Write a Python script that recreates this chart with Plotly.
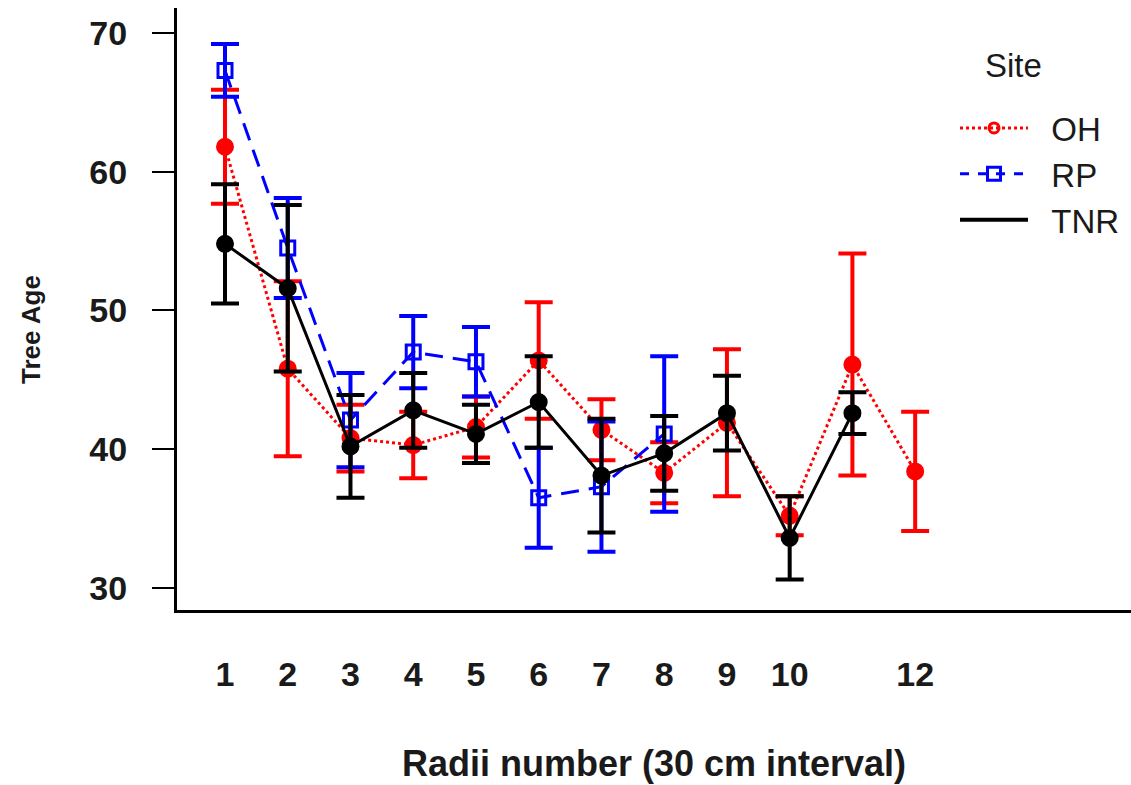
import plotly.graph_objects as go

radii_oh = [1, 2, 3, 4, 5, 6, 7, 8, 9, 10, 11, 12]
oh_mean = [61.8, 45.8, 40.8, 40.3, 41.6, 46.4, 41.4, 38.3, 41.9, 35.2, 46.1, 38.4]
oh_se = [4.1, 6.3, 2.4, 2.4, 2.2, 4.2, 2.2, 2.2, 5.3, 1.4, 8.0, 4.3]

radii_rp = [1, 2, 3, 4, 5, 6, 7, 8]
rp_mean = [67.3, 54.5, 42.1, 47.0, 46.3, 36.5, 37.3, 41.1]
rp_se = [1.9, 3.6, 3.4, 2.6, 2.5, 3.6, 4.7, 5.6]

radii_tnr = [1, 2, 3, 4, 5, 6, 7, 8, 9, 10, 11]
tnr_mean = [54.8, 51.6, 40.2, 42.8, 41.1, 43.4, 38.1, 39.7, 42.6, 33.6, 42.6]
tnr_se = [4.3, 6.0, 3.7, 2.7, 2.1, 3.3, 4.1, 2.7, 2.7, 3.0, 1.5]

x_tickvals = [1, 2, 3, 4, 5, 6, 7, 8, 9, 10, 12]
x_ticktext = ["1", "2", "3", "4", "5", "6", "7", "8", "9", "10", "12"]
y_tickvals = [30, 40, 50, 60, 70]

RED = "#FF0000"
BLUE = "#0000FF"
BLACK = "#000000"
DASH = "18px,10px"

fig = go.Figure()

def add_series(name, x, y, se, color, dash, symbol, size):
    fig.add_trace(go.Scatter(
        x=x, y=y, mode="lines+markers", name=name, showlegend=False,
        line=dict(color=color, width=3, dash=dash),
        marker=dict(color=color, size=size, symbol=symbol,
                    line=dict(color=color, width=3)),
        error_y=dict(type="data", array=se, visible=True, color=color,
                     thickness=4, width=14),
    ))

add_series("OH", radii_oh, oh_mean, oh_se, RED, "dot", "circle", 15)
add_series("RP", radii_rp, rp_mean, rp_se, BLUE, DASH, "square-open", 14)
add_series("TNR", radii_tnr, tnr_mean, tnr_se, BLACK, "solid", "circle", 15)

NB = "\u00a0" * 2
fig.add_trace(go.Scatter(x=[None], y=[None], mode="lines+markers", name=NB + "OH",
                         line=dict(color=RED, width=3, dash="dot"),
                         marker=dict(symbol="circle-open", size=10, color=RED,
                                     line=dict(color=RED, width=3))))
fig.add_trace(go.Scatter(x=[None], y=[None], mode="lines+markers", name=NB + "RP",
                         line=dict(color=BLUE, width=3, dash="dash"),
                         marker=dict(symbol="square-open", size=13, color=BLUE,
                                     line=dict(color=BLUE, width=3))))
fig.add_trace(go.Scatter(x=[None], y=[None], mode="lines", name=NB + "TNR",
                         line=dict(color=BLACK, width=4)))

pw, ph = 1131 - 177, 785 - 175 - 8

def px(xp):
    return (xp - 177) / pw

def py(yp):
    return (610 - yp) / ph

fig.update_layout(
    width=1131, height=785,
    margin=dict(l=177, r=0, t=8, b=175, autoexpand=False),
    paper_bgcolor="white", plot_bgcolor="white",
    font=dict(family="Liberation Sans, Arial, sans-serif", color="#1a1a1a"),
    showlegend=True,
    legend=dict(x=px(955), y=py(100), xanchor="left", yanchor="top",
                font=dict(size=33, color="#1a1a1a"),
                itemwidth=68, tracegroupgap=0, bgcolor="rgba(0,0,0,0)"),
    annotations=[
        dict(text="Site", x=px(983), y=py(65), xref="paper", yref="paper",
             xanchor="left", yanchor="middle", showarrow=False,
             font=dict(size=33, color="#1a1a1a")),
        dict(text="Tree Age", x=px(31), y=py(330), xref="paper", yref="paper",
             xanchor="center", yanchor="middle", showarrow=False, textangle=-90,
             font=dict(size=26, weight="bold", color="#1a1a1a")),
    ],
)

fig.update_xaxes(range=[0.235, 15.44], tickvals=x_tickvals, ticktext=x_ticktext,
                 showline=True, linecolor="black", linewidth=3, ticks="",
                 showgrid=False, zeroline=False, ticklabelstandoff=32,
                 tickfont=dict(size=34, weight="bold"),
                 title=dict(text="Radii number (30 cm interval)", standoff=60,
                            font=dict(size=36, weight="bold")))
fig.update_yaxes(range=[28.41, 71.8], tickvals=y_tickvals,
                 showline=True, linecolor="black", linewidth=3,
                 ticks="outside", ticklen=22, tickwidth=2, tickcolor="black",
                 showgrid=False, zeroline=False, ticklabelstandoff=18,
                 tickfont=dict(size=34, weight="bold"))

fig.write_html("out.html")
